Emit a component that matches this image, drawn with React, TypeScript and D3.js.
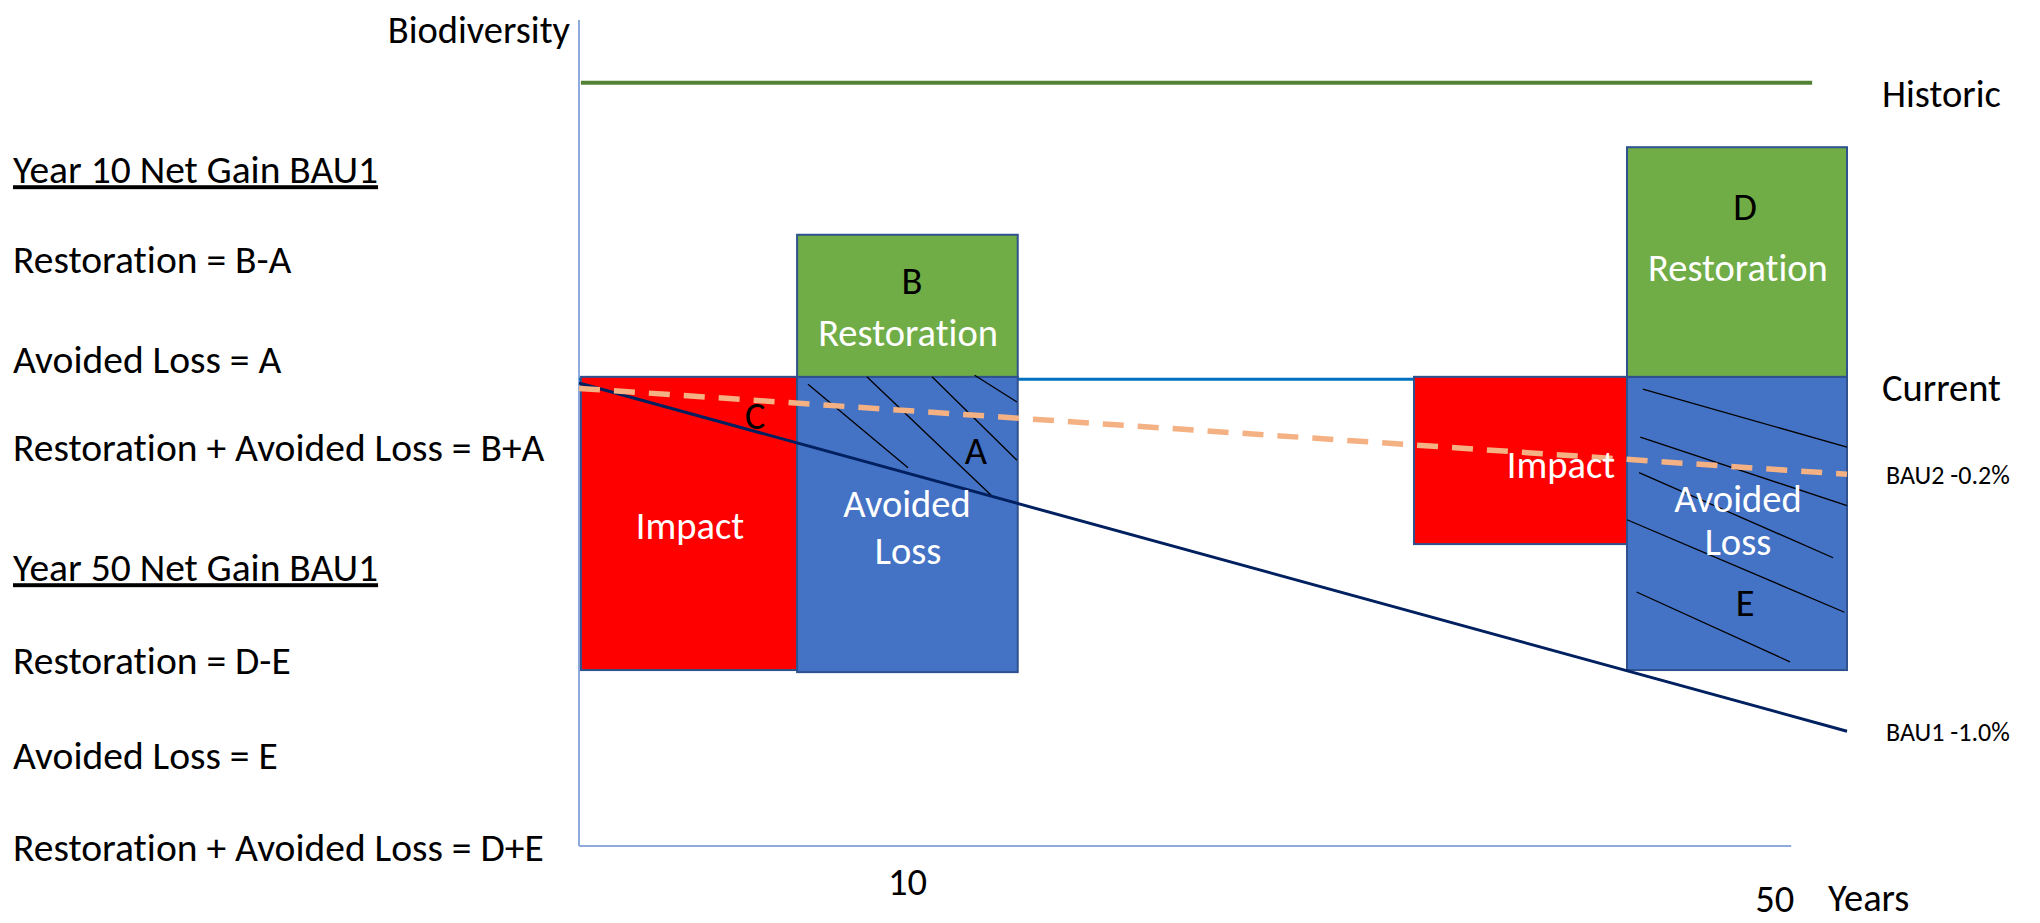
import React from "react";
import * as d3 from "d3";

// ---- Diagram data (diagram units: x 0..100 along time, y 0..100 biodiversity) ----
const xDomain: [number, number] = [0, 100];
const yDomain: [number, number] = [0, 100];

const axisXEnd = 95.6;

const xTicks = [
  { value: 25.9, label: "10" },
  { value: 94.3, label: "50" },
];

const boxes = [
  { kind: "impact", x0: 0.15, x1: 17.2, y0: 21.3, y1: 56.8 },
  { kind: "avoided", x0: 17.2, x1: 34.6, y0: 21.05, y1: 56.8 },
  { kind: "restoration", x0: 17.2, x1: 34.6, y0: 56.8, y1: 74.0 },
  { kind: "impact", x0: 65.85, x1: 82.65, y0: 36.55, y1: 56.8 },
  { kind: "avoided", x0: 82.65, x1: 100, y0: 21.3, y1: 56.8 },
  { kind: "restoration", x0: 82.65, x1: 100, y0: 56.8, y1: 84.6 },
];

const historic = { y: 92.4, x0: 0.15, x1: 97.25 };
const current = { y: 56.5, x0: 0, x1: 100 };

const bau1: [number, number][] = [
  [0, 56.05],
  [100, 13.9],
];
const bau2: [number, number][] = [
  [0, 55.4],
  [100, 45.0],
];

const hatches: [number, number, number, number][] = [
  // year 10 avoided loss
  [18.06, 55.9, 25.95, 45.8],
  [22.7, 56.8, 32.65, 42.25],
  [27.84, 56.8, 34.54, 46.7],
  [31.2, 57.0, 34.54, 53.75],
  // year 50 avoided loss
  [83.9, 55.3, 100, 48.3],
  [83.7, 49.5, 100, 41.2],
  [83.6, 45.2, 98.9, 34.9],
  [82.65, 39.5, 99.8, 28.3],
  [83.4, 30.75, 95.5, 22.3],
];

const boxLabels = [
  { text: "B", x: 26.26, y: 68.5, tone: "dark" },
  { text: "Restoration", x: 25.95, y: 62.2, tone: "light" },
  { text: "Impact", x: 8.75, y: 38.9, tone: "light" },
  { text: "Avoided", x: 25.87, y: 41.5, tone: "light" },
  { text: "Loss", x: 25.95, y: 35.8, tone: "light" },
  { text: "A", x: 31.3, y: 47.9, tone: "dark" },
  { text: "C", x: 13.88, y: 52.2, tone: "dark" },
  { text: "D", x: 91.96, y: 77.5, tone: "dark" },
  { text: "Restoration", x: 91.4, y: 70.1, tone: "light" },
  { text: "Impact", x: 77.44, y: 46.25, tone: "light" },
  { text: "Avoided", x: 91.4, y: 42.1, tone: "light" },
  { text: "Loss", x: 91.4, y: 36.9, tone: "light" },
  { text: "E", x: 91.96, y: 29.5, tone: "dark" },
];

const seriesLabels = [
  { text: "Historic", y: 91.2, small: false },
  { text: "Current", y: 55.6, small: false },
  { text: "BAU2 -0.2%", y: 45.0, small: true },
  { text: "BAU1 -1.0%", y: 13.9, small: true },
];

const notes = [
  { text: "Year 10 Net Gain BAU1", heading: true },
  { text: "Restoration = B-A", heading: false },
  { text: "Avoided Loss = A", heading: false },
  { text: "Restoration + Avoided Loss = B+A", heading: false },
  { text: "Year 50 Net Gain BAU1", heading: true },
  { text: "Restoration = D-E", heading: false },
  { text: "Avoided Loss = E", heading: false },
  { text: "Restoration + Avoided Loss = D+E", heading: false },
];
const noteCenters = [169, 259, 359, 447, 567, 660, 755, 847];

// ---- Styles ----
const W = 2040;
const H = 923;
const FONT = "Carlito, Calibri, Lato, 'Noto Sans', sans-serif";
const fills: Record<string, string> = {
  impact: "#FF0000",
  avoided: "#4472C4",
  restoration: "#70AD47",
};

export default function App() {
  const x = d3.scaleLinear().domain(xDomain).range([579, 1847]);
  const y = d3.scaleLinear().domain(yDomain).range([846, 20]);
  const line = d3
    .line<[number, number]>()
    .x((d) => x(d[0]))
    .y((d) => y(d[1]));

  const fs = 38.5;
  const fsNote = 39.5;
  const fsSmall = 26;

  return (
    <svg
      width={W}
      height={H}
      viewBox={`0 0 ${W} ${H}`}
      style={{
        position: "absolute",
        left: 0,
        top: 0,
        background: "#fff",
        fontFamily: FONT,
        fontVariantLigatures: "none",
      }}
    >
      <rect x={0} y={0} width={W} height={H} fill="#fff" />
      {/* axes */}
      <line x1={x(0)} x2={x(0)} y1={y(100)} y2={y(0)} stroke="#8FAADC" strokeWidth={2} />
      <line x1={x(0)} x2={x(axisXEnd)} y1={y(0)} y2={y(0)} stroke="#8FAADC" strokeWidth={2} />

      {/* historic */}
      <line
        x1={x(historic.x0)}
        x2={x(historic.x1)}
        y1={y(historic.y)}
        y2={y(historic.y)}
        stroke="#548235"
        strokeWidth={4}
      />
      {/* current */}
      <line
        x1={x(current.x0)}
        x2={x(current.x1)}
        y1={y(current.y)}
        y2={y(current.y)}
        stroke="#0070C0"
        strokeWidth={3}
      />

      {/* boxes */}
      {boxes.map((b, i) => (
        <rect
          key={i}
          x={x(b.x0)}
          y={y(b.y1)}
          width={x(b.x1) - x(b.x0)}
          height={y(b.y0) - y(b.y1)}
          fill={fills[b.kind]}
          stroke="#2F528F"
          strokeWidth={2}
        />
      ))}

      {/* hatching */}
      {hatches.map((h, i) => (
        <line
          key={i}
          x1={x(h[0])}
          y1={y(h[1])}
          x2={x(h[2])}
          y2={y(h[3])}
          stroke="#000"
          strokeWidth={1.3}
        />
      ))}

      {/* BAU lines */}
      <path d={line(bau1) || ""} fill="none" stroke="#002060" strokeWidth={3} />
      <path
        d={line(bau2) || ""}
        fill="none"
        stroke="#F4B183"
        strokeWidth={5.5}
        strokeDasharray="21 14"
      />

      {/* box labels */}
      {boxLabels.map((l, i) => (
        <text
          key={i}
          x={x(l.x)}
          y={y(l.y)}
          dy="0.36em"
          textAnchor="middle"
          fontSize={fs}
          fill={l.tone === "dark" ? "#000" : "#fff"}
        >
          {l.text}
        </text>
      ))}

      {/* series labels */}
      {seriesLabels.map((l, i) => (
        <text
          key={i}
          x={l.small ? 1886 : 1882}
          y={y(l.y)}
          dy="0.36em"
          fontSize={l.small ? fsSmall : fs}
          fill="#000"
        >
          {l.text}
        </text>
      ))}

      {/* axis titles and ticks */}
      <text x={x(0) - 9} y={29} dy="0.36em" textAnchor="end" fontSize={fs} fill="#000">
        Biodiversity
      </text>
      {xTicks.map((t, i) => (
        <text
          key={i}
          x={x(t.value)}
          y={y(0) + 35 + i * 17}
          dy="0.36em"
          textAnchor="middle"
          fontSize={fs}
          fill="#000"
        >
          {t.label}
        </text>
      ))}
      <text x={1828} y={897} dy="0.36em" fontSize={fs} fill="#000">
        Years
      </text>

      {/* notes */}
      {notes.map((n, i) => (
        <text
          key={i}
          x={13}
          y={noteCenters[i]}
          dy="0.36em"
          fontSize={fsNote}
          fill="#000"
          style={n.heading ? { textDecoration: "underline" } : undefined}
        >
          {n.text}
        </text>
      ))}
    </svg>
  );
}
